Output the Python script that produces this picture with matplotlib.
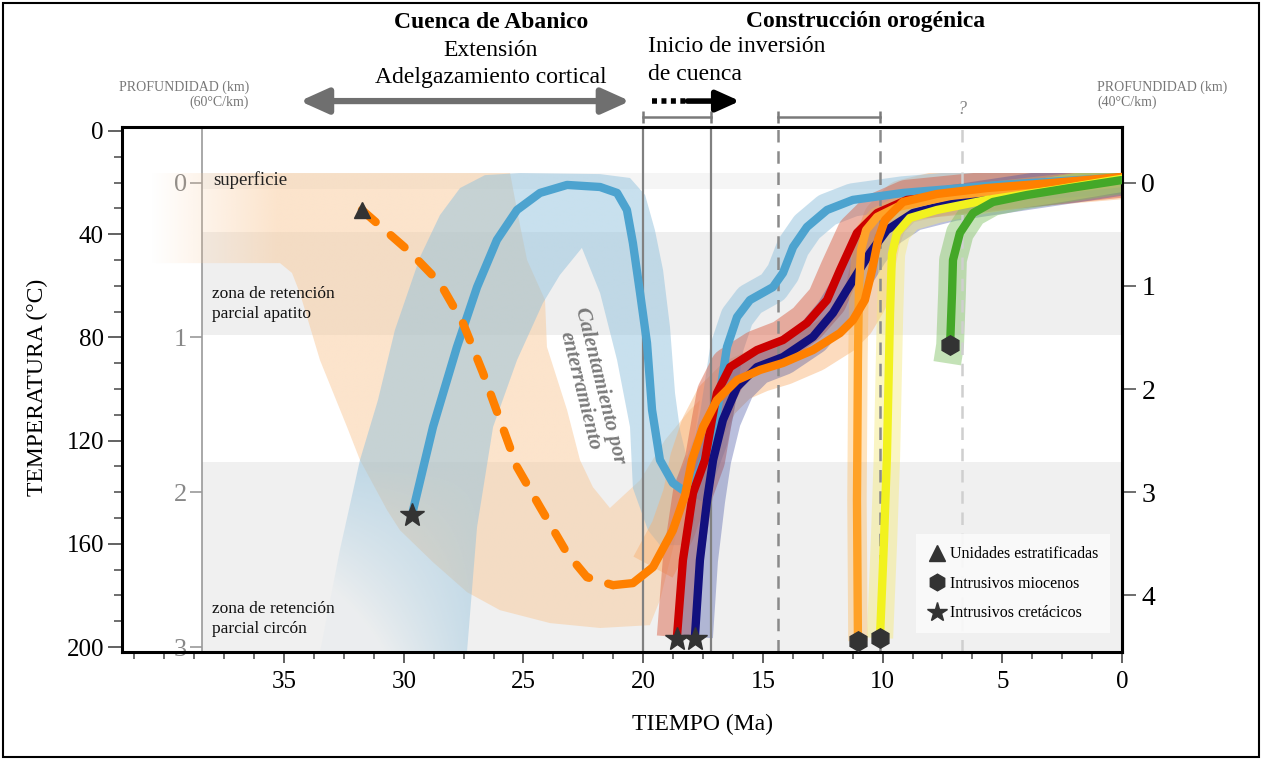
import numpy as np
import matplotlib
matplotlib.use('Agg')
import matplotlib.pyplot as plt
import matplotlib.colors as mcolors
from matplotlib.patches import Polygon, Rectangle
from matplotlib.lines import Line2D
from matplotlib.ticker import MultipleLocator

plt.rcParams['font.family'] = ['Liberation Serif', 'DejaVu Serif']

###  DATOS  (tiempo en Ma, temperatura en °C)  ###

# trayectoria azul (intrusivo cretácico, recalentada)
azul_t = [29.66, 28.78, 27.78, 26.94, 26.11, 25.27, 24.31, 23.18, 21.80, 21.09, 20.68,
          20.43, 20.13, 19.84, 19.63, 19.30, 18.76, 18.17, 17.63, 17.17, 16.92, 16.50,
          16.08, 15.54, 14.58, 14.16, 13.74, 13.16, 12.32, 11.24, 9.15, 5.10, 0.0]
azul_T = [148.8, 114.7, 83.7, 60.5, 42.2, 30.6, 24.0, 20.9, 21.7, 24.0, 30.6,
          43.4, 62.8, 82.2, 108.1, 127.5, 136.4, 140.3, 131.4, 120.0, 109.3, 83.7,
          72.1, 65.5, 60.5, 55.0, 45.0, 37.2, 30.6, 26.7, 24.0, 20.9, 18.0]
azul_min = 17

# trayectoria naranja (unidades estratificadas): tramo discontinuo y continuo
naranja_disc_t = [31.75, 29.74, 28.49, 27.53, 26.69, 25.98, 25.27, 24.31, 23.18, 22.35, 21.26]
naranja_disc_T = [30.6, 46.9, 58.9, 74.4, 93.8, 112.0, 130.2, 145.7, 163.6, 172.9, 176.0]
naranja_t = [21.26, 20.43, 19.59, 18.76, 18.25, 17.96, 17.50, 16.92, 16.08, 15.12, 14.16,
             12.91, 11.78, 11.24, 10.74, 10.44, 10.19, 9.90, 9.15, 7.73, 5.64, 3.01, 0.0]
naranja_T = [176.0, 175.2, 169.0, 154.7, 141.1, 127.5, 114.7, 104.3, 96.5, 92.6, 89.9,
             84.9, 78.3, 73.3, 65.5, 53.9, 42.2, 34.5, 27.5, 24.4, 22.1, 20.2, 17.8]

rojo_t = [18.59, 18.34, 17.92, 17.42, 17.13, 16.92, 16.37, 15.25, 14.16, 13.16, 12.32,
          11.78, 11.07, 10.23, 8.98, 5.64, 3.01, 0.0]
rojo_T = [196.1, 166.3, 140.3, 127.5, 112.0, 101.6, 91.5, 84.9, 81.0, 74.4, 65.5,
          53.9, 39.5, 31.8, 26.7, 23.6, 20.9, 18.0]

marino_t = [17.84, 17.63, 17.33, 17.08, 16.67, 16.08, 15.25, 14.16, 12.91, 12.07, 11.49,
            10.53, 9.82, 8.73, 7.06, 2.88, 0.0]
marino_T = [196.1, 166.3, 143.0, 127.5, 112.0, 99.2, 91.5, 87.6, 79.8, 70.5, 61.6,
            47.3, 38.4, 31.8, 27.9, 22.1, 18.0]

nclaro_t = [11.03, 11.07, 11.03, 10.99, 10.90, 10.69, 10.23, 9.40, 7.18, 3.01, 0.0]
nclaro_T = [197.7, 143.0, 88.8, 61.6, 46.1, 38.4, 33.3, 29.5, 25.2, 20.9, 18.0]

amarillo_t = [10.11, 9.94, 9.82, 9.69, 9.61, 9.40, 8.86, 7.73, 5.64, 2.88, 0.0]
amarillo_T = [196.5, 158.5, 126.4, 70.9, 47.7, 39.5, 33.7, 30.6, 26.7, 22.9, 18.5]

verde_t = [7.18, 7.10, 7.06, 6.77, 6.22, 5.39, 3.97, 2.17, 0.0]
verde_T = [82.9, 62.8, 50.0, 39.5, 31.8, 27.5, 24.8, 22.1, 19.0]
verde_env_base = (7.30, 90.0)

# muestras
triangulo_t, triangulo_T = [31.75], [30.6]
estrellas_t, estrellas_T = [29.66, 18.59, 17.84], [148.8, 197.0, 197.0]
hexagonos_t, hexagonos_T = [11.03, 10.11, 7.18], [197.7, 196.5, 82.9]

# envolventes
env_naranja_t = [40.6, 25.56, 25.23, 24.85, 24.10, 24.02, 23.18, 22.64, 22.10, 21.39, 20.13,
                 19.09, 18.05, 17.63, 18.05, 18.67, 19.30, 19.72, 21.80, 23.89, 25.98, 27.36,
                 28.78, 30.16, 30.70, 31.83, 32.37, 33.50, 34.34, 34.67, 35.17, 40.6]
env_naranja_T = [16.3, 16.3, 32.6, 50.0, 65.5, 83.7, 108.1, 127.5, 138.0, 146.1, 135.3,
                 119.8, 108.1, 104.3, 131.4, 158.5, 181.8, 191.5, 192.6, 190.7, 185.7, 178.7,
                 167.1, 154.7, 146.9, 127.5, 114.7, 88.8, 62.8, 55.0, 51.2, 51.2]
env_azul_t = [33.5, 32.67, 31.83, 31.08, 30.37, 29.32, 28.49, 27.65, 26.61, 25.15, 21.80,
              20.55, 19.92, 19.51, 19.17, 18.88, 18.67, 18.46, 18.05, 17.84, 18.25, 19.30,
              19.80, 20.43, 20.55, 21.09, 21.80, 22.56, 23.48, 24.19, 25.27, 26.27, 26.94, 27.36]
env_azul_T = [201.9, 162.4, 127.5, 104.3, 77.1, 48.8, 32.6, 22.1, 17.1, 16.3, 16.7,
              18.2, 24.8, 38.4, 53.9, 76.0, 101.6, 115.9, 131.4, 150.8, 160.5, 160.5,
              154.7, 138.4, 114.7, 88.8, 62.8, 45.3, 55.8, 66.7, 88.8, 114.7, 153.5, 201.9]

# zonas de retención parcial y superficie
superficie = (16.3, 22.5)
zrp_apatito = (39.0, 79.0)
zrp_circon = (128.3, 202.0)

# marco temporal
fase_extension = (34.34, 20.55)
inversion_punteada = (19.63, 18.15)
inversion_flecha = (18.15, 15.96)
intervalos = [(20.0, 17.17), (14.37, 10.11)]
lineas_solidas = [20.0, 17.17]
lineas_discontinuas = [14.37, 10.11]
linea_incierta = 6.68

###  FIGURA  ###

fig = plt.figure(figsize=(12.64, 7.59), dpi=100)
ax = fig.add_axes([122/1264, 107/759, 1000/1264, 525/759])
XL, YL = (41.77, 0), (201.9, -1.55)
x_int = (XL[0] - 38.43) / XL[0]

fig.add_artist(Rectangle((0.002, 0.003), 0.994, 0.993, transform=fig.transFigure,
                         fill=False, lw=1.5, ec='black'))

ax.axhspan(*superficie, xmin=x_int, color='#f5f5f5', lw=0, zorder=0)
ax.axhspan(*zrp_apatito, xmin=x_int, color='#efefef', lw=0, zorder=0)
ax.axhspan(*zrp_circon, xmin=x_int, color='#f0f0f0', lw=0, zorder=0)


def relleno(ts, Ts, color, alpha, fade, z):
    poly = Polygon(np.column_stack([ts, Ts]), closed=True, fc='none', ec='none')
    ax.add_patch(poly)
    x0, x1, y0, y1 = min(ts), max(ts), min(Ts), max(Ts)
    X, Y = np.meshgrid(np.linspace(x0, x1, 400), np.linspace(y0, y1, 300))
    img = np.zeros(X.shape + (4,))
    img[..., :3] = mcolors.to_rgb(color)
    img[..., 3] = alpha * fade(X, Y)
    im = ax.imshow(img, extent=(x0, x1, y0, y1), origin='lower', aspect='auto',
                   zorder=z, interpolation='bilinear')
    im.set_clip_path(poly)


relleno(env_naranja_t, env_naranja_T, '#f9c999', 0.5,
        lambda X, Y: np.clip((40.6 - X) / 5.3, 0, 1), 1)
relleno(env_azul_t, env_azul_T, '#91c1dd', 0.5,
        lambda X, Y: np.clip(1 - np.clip((Y - 130) / 80, 0, 1) *
                             np.clip((X - 26.5) / 7.0, 0, 1) * 1.6, 0.1, 1), 1.5)

# envolventes de las trayectorias en el haz derecho (recortadas en la superficie)
bajo_superficie = Rectangle((0, superficie[0]), XL[0], YL[0] - superficie[0],
                            transform=ax.transData, fc='none', ec='none')
ax.add_patch(bajo_superficie)
halo = dict(solid_capstyle='butt', solid_joinstyle='round', zorder=2)
halos = [
    ax.plot(naranja_t[2:], naranja_T[2:], color='#f9b070', lw=32, alpha=0.45, **halo),
    ax.plot(azul_t[azul_min:], azul_T[azul_min:], color='#91c1dd', lw=24, alpha=0.5, **halo),
    ax.plot(rojo_t, rojo_T, color='#d9573b', lw=29, alpha=0.45, **halo),
    ax.plot(marino_t, marino_T, color='#3a4aa0', lw=26, alpha=0.35, **halo),
    ax.plot(nclaro_t, nclaro_T, color='#ffb347', lw=14, alpha=0.35, **halo),
    ax.plot(amarillo_t, amarillo_T, color='#f6ea7a', lw=19, alpha=0.45, **halo),
    ax.plot([verde_env_base[0]] + verde_t, [verde_env_base[1]] + verde_T,
            color='#7cc060', lw=20, alpha=0.45, **halo),
]
for h in halos:
    h[0].set_clip_path(bajo_superficie)

for x in lineas_solidas:
    ax.axvline(x, color='#808080', lw=1.6, zorder=2.5)
for x in lineas_discontinuas:
    ax.axvline(x, color='#8a8a8a', lw=1.8, ls=(0, (5, 3.5)), zorder=2.5)
ax.axvline(linea_incierta, color='#cfcfcf', lw=1.8, ls=(0, (5, 3.5)), zorder=2.5)

# trayectorias
lin = dict(lw=6, solid_capstyle='round', solid_joinstyle='round')
ax.plot(azul_t, azul_T, color='#4da3cf', zorder=4, **lin)
ax.plot(naranja_disc_t, naranja_disc_T, color='#ff8000', lw=6, ls=(0, (2.2, 2.4)),
        dash_capstyle='round', zorder=4.5)
ax.plot(rojo_t, rojo_T, color='#cc0000', zorder=4.6, **lin)
ax.plot(marino_t, marino_T, color='#12107e', zorder=4.7, **lin)
ax.plot(nclaro_t, nclaro_T, color='#ffa228', zorder=4.8, **lin)
ax.plot(naranja_t, naranja_T, color='#ff8000', zorder=4.9, **lin)
ax.plot(amarillo_t, amarillo_T, color='#f2f21e', zorder=5, **lin)
ax.plot(verde_t, verde_T, color='#44a828', zorder=5.1, **lin)

mk = dict(ls='none', color='#333333', zorder=8)
ax.plot(triangulo_t, triangulo_T, marker='^', ms=12, **mk)
ax.plot(estrellas_t, estrellas_T, marker='*', ms=18, **mk)
ax.plot(hexagonos_t, hexagonos_T, marker='h', ms=14, **mk)

# textos dentro del gráfico
ax.text(37.97, 19.2, 'superficie', fontsize=13.5, color='#222', va='center', zorder=3)
ax.text(38.0, 67.0, 'zona de retención\nparcial apatito', fontsize=12.5, color='#111',
        va='center', linespacing=1.35, zorder=3)
ax.text(38.0, 189.0, 'zona de retención\nparcial circón', fontsize=12.5, color='#111',
        va='center', linespacing=1.35, zorder=3)
ax.text(22.22, 99.6, 'Calentamiento por\nenterramiento', rotation=-76, rotation_mode='anchor',
        ha='center', va='center', fontsize=15, style='italic', weight='bold',
        color='#7a7a7a', multialignment='center', linespacing=1.05, zorder=3)

# marco temporal superior
y_fl, y_br = -11.6, -5.4
ax.annotate('', xy=(fase_extension[1], y_fl), xytext=(fase_extension[0], y_fl),
            arrowprops=dict(arrowstyle='<|-|>,head_length=1.0,head_width=0.45', color='#6f6f6f',
                            lw=4.5, mutation_scale=17, shrinkA=0, shrinkB=0),
            annotation_clip=False)
ax.plot(inversion_punteada, [y_fl, y_fl], color='black', lw=4, ls=(0, (0.9, 0.8)),
        clip_on=False, solid_capstyle='butt')
ax.annotate('', xy=(inversion_flecha[1], y_fl), xytext=(inversion_flecha[0], y_fl),
            arrowprops=dict(arrowstyle='-|>,head_length=1.0,head_width=0.45', color='black',
                            lw=4, mutation_scale=14, shrinkA=0, shrinkB=0),
            annotation_clip=False)
for a, b in intervalos:
    ax.plot([a, b], [y_br, y_br], color='#7a7a7a', lw=1.8, clip_on=False)
    ax.plot([a, b], [y_br, y_br], ls='none', marker='|', ms=9, mew=1.8, color='#7a7a7a',
            clip_on=False)
ax.text(linea_incierta, -8.5, '?', fontsize=13, style='italic', color='#888', ha='center',
        va='center')

fig.text(491/1264, 1 - 22/759, 'Cuenca de Abanico', fontsize=17, weight='bold', ha='center', va='center')
fig.text(491/1264, 1 - 50/759, 'Extensión', fontsize=17, ha='center', va='center')
fig.text(491/1264, 1 - 78/759, 'Adelgazamiento cortical', fontsize=17, ha='center', va='center')
fig.text(866/1264, 1 - 22/759, 'Construcción orogénica', fontsize=17, weight='bold', ha='center', va='center')
fig.text(648/1264, 1 - 47/759, 'Inicio de inversión', fontsize=17, ha='left', va='center')
fig.text(648/1264, 1 - 75/759, 'de cuenca', fontsize=17, ha='left', va='center')
fig.text(249/1264, 1 - 87/759, 'PROFUNDIDAD (km)', fontsize=10, color='#777', ha='right', va='center')
fig.text(249/1264, 1 - 102/759, '(60°C/km)', fontsize=10, color='#777', ha='right', va='center')
fig.text(1097/1264, 1 - 87/759, 'PROFUNDIDAD (km)', fontsize=10, color='#777', ha='left', va='center')
fig.text(1097/1264, 1 - 102/759, '(40°C/km)', fontsize=10, color='#777', ha='left', va='center')

# ejes
ax.set_xlim(*XL)
ax.set_ylim(*YL)
ax.set_xticks([35, 30, 25, 20, 15, 10, 5, 0])
ax.xaxis.set_minor_locator(MultipleLocator(1.25))
ax.set_yticks([0, 40, 80, 120, 160, 200])
ax.yaxis.set_minor_locator(MultipleLocator(10))
ax.tick_params(axis='y', which='major', length=10, width=1.3, color='#555', labelsize=18, pad=3)
ax.tick_params(axis='y', which='minor', length=6, width=1.2, color='#555')
ax.tick_params(axis='x', which='major', length=8, width=1.3, color='#555', labelsize=18, pad=6)
ax.tick_params(axis='x', which='minor', length=5, width=1.2, color='#555')
for s in ax.spines.values():
    s.set_linewidth(2.2)
    s.set_color('black')
ax.set_ylabel('TEMPERATURA (°C)', fontsize=17)
ax.yaxis.set_label_coords(-0.074, 0.505)
ax.set_xlabel('TIEMPO (Ma)', fontsize=17)
ax.xaxis.set_label_coords(0.581, -0.118)

prof60 = ax.secondary_yaxis(x_int, functions=(lambda T: (T - 20) / 60, lambda d: 20 + 60 * d))
prof60.set_yticks([0, 1, 2, 3])
prof60.tick_params(axis='y', length=9, width=1.2, color='#999', labelcolor='#888',
                   labelsize=19, pad=2)
prof60.spines['left'].set_color('#999')
prof60.spines['left'].set_linewidth(1.2)

prof40 = ax.secondary_yaxis('right', functions=(lambda T: (T - 20) / 40, lambda d: 20 + 40 * d))
prof40.set_yticks([0, 1, 2, 3, 4])
prof40.tick_params(axis='y', length=10, width=1.2, color='#555', labelsize=20, pad=4)
prof40.spines['right'].set_linewidth(2.2)

leyenda = [
    Line2D([], [], marker='^', ls='none', color='#333333', ms=11, label='Unidades estratificadas'),
    Line2D([], [], marker='h', ls='none', color='#333333', ms=12, label='Intrusivos miocenos'),
    Line2D([], [], marker='*', ls='none', color='#333333', ms=15, label='Intrusivos cretácicos'),
]
lg = ax.legend(handles=leyenda, loc='center', bbox_to_anchor=(0.891, 0.13), fontsize=11.5,
               frameon=True, facecolor='#fafafa', edgecolor='none', framealpha=0.92,
               fancybox=False, handletextpad=0.25, labelspacing=0.85, borderpad=0.75,
               handlelength=1.1, borderaxespad=0)
lg.set_zorder(10)

fig.savefig('out.png', dpi=100)
